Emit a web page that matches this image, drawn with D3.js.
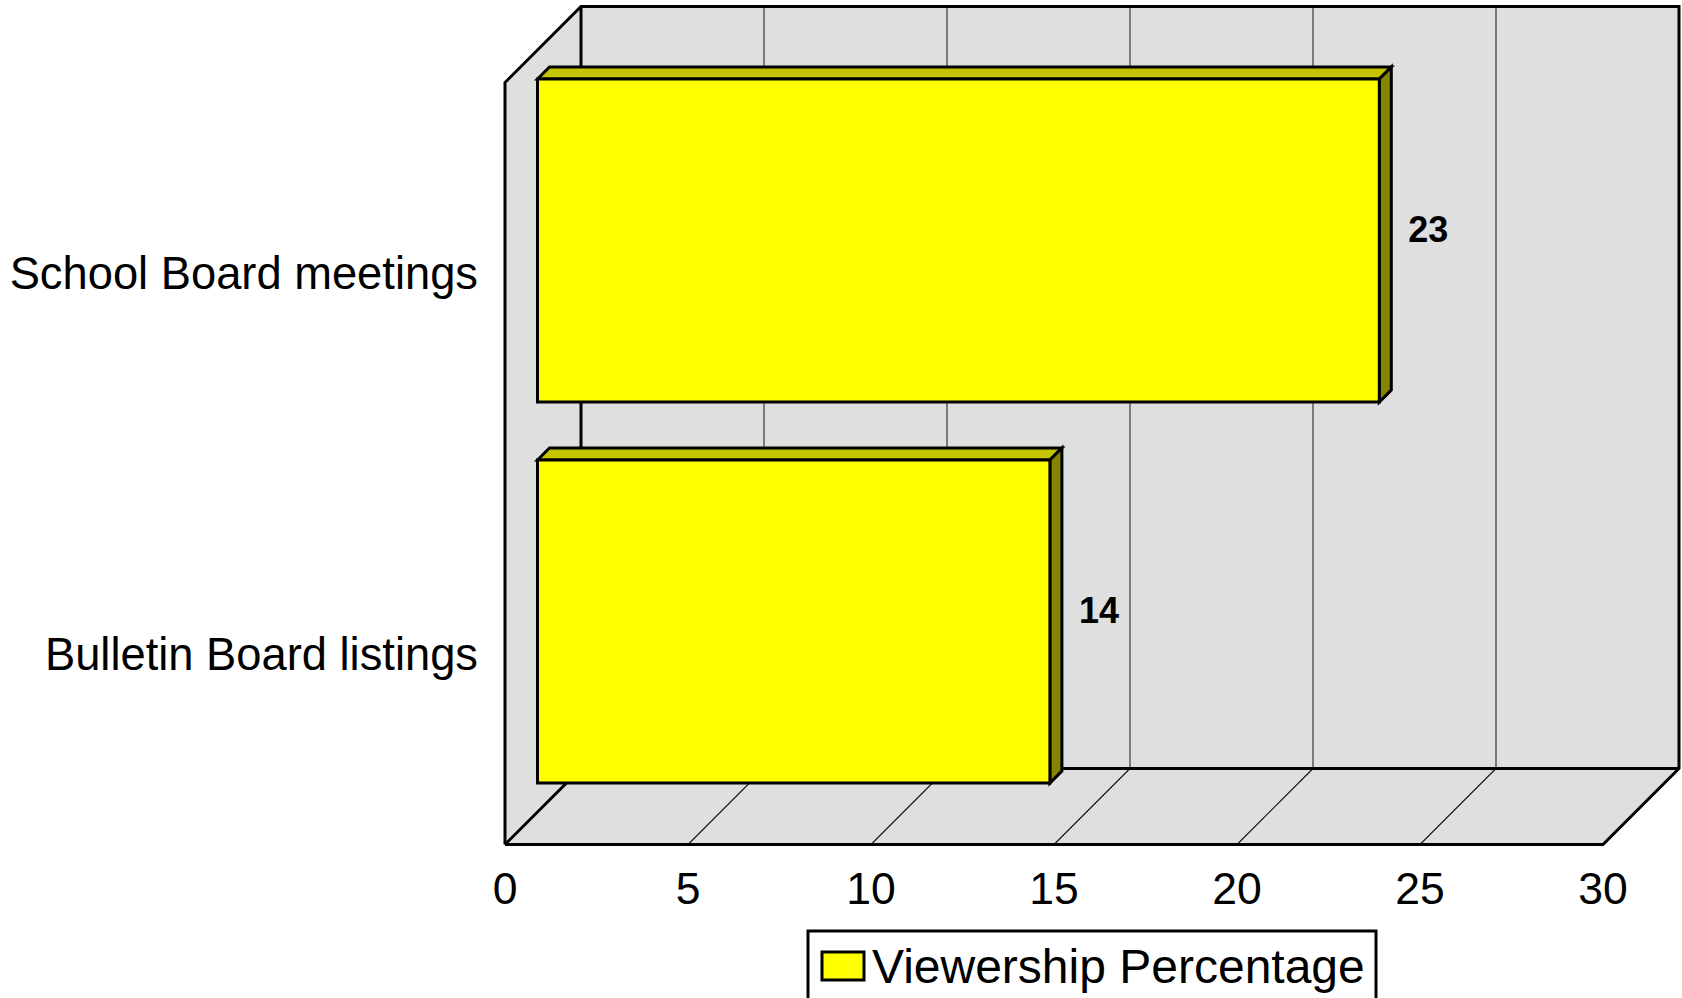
<!DOCTYPE html>
<html>
<head>
<meta charset="utf-8">
<script src="https://cdn.jsdelivr.net/npm/d3@7"></script>
<style>
  html, body { margin: 0; padding: 0; background: #fff; overflow: hidden; }
  svg { display: block; }
  text { font-family: "Liberation Sans", Arial, sans-serif; fill: #000; }
</style>
</head>
<body>
<svg id="chart" width="1682" height="998"></svg>
<script>
const categories = ["School Board meetings", "Bulletin Board listings"];
const viewership = [23, 14];
const xTicks = [0, 5, 10, 15, 20, 25, 30];
const seriesName = "Viewership Percentage";

const svg = d3.select("#chart");

// Front plane of the 3D box and the offset of its back wall
const front = { left: 505, right: 1603, top: 82.5, bottom: 844.5 };
const depth = 76;
const barInset = 32.5;
const barDepth = 12;
const strokeW = 3;

const x = d3.scaleLinear().domain([0, 30]).range([front.left, front.right]);
const y = d3.scaleBand().domain(categories).range([front.top, front.bottom]).paddingInner(0.152).paddingOuter(0.076);

const wall = "#dfdfdf";
const path = pts => "M" + pts.map(p => p.join(",")).join("L") + "Z";

const backLeft = x(0) + depth, backRight = x(30) + depth;
const backTop = front.top - depth, backBottom = front.bottom - depth;

// Walls and floor
const box = svg.append("g");
box.append("path").attr("fill", wall).attr("stroke", "none")
  .attr("d", path([[x(0), front.top], [backLeft, backTop], [backRight, backTop], [backRight, backBottom],
                   [x(30), front.bottom], [x(0), front.bottom]]));

// Gridlines on the back wall and across the floor
const gridTicks = xTicks.slice(1, -1);
box.selectAll("line.back").data(gridTicks).join("line").attr("class", "back")
  .attr("x1", d => x(d) + depth).attr("x2", d => x(d) + depth)
  .attr("y1", backTop).attr("y2", backBottom)
  .attr("stroke", "#444").attr("stroke-width", 1.3);
box.selectAll("line.floor").data(gridTicks).join("line").attr("class", "floor")
  .attr("x1", d => x(d)).attr("x2", d => x(d) + depth)
  .attr("y1", front.bottom).attr("y2", backBottom)
  .attr("stroke", "#111").attr("stroke-width", 1.1);

// Box outline
const edge = (pts, w) => box.append("path").attr("fill", "none").attr("stroke", "#000")
  .attr("stroke-width", w).attr("stroke-linejoin", "miter")
  .attr("d", "M" + pts.map(p => p.join(",")).join("L"));
edge([[x(0), front.bottom], [x(0), front.top], [backLeft, backTop], [backRight, backTop], [backRight, backBottom], [x(30), front.bottom], [x(0), front.bottom]], strokeW);
edge([[backLeft, backTop], [backLeft, backBottom], [backRight, backBottom]], strokeW);
edge([[x(0), front.bottom], [backLeft, backBottom]], strokeW);

// Bars: top face, side face, front face
const bars = svg.append("g").selectAll("g").data(categories).join("g");
const bx0 = x(0) + barInset;
const bx1 = (i) => x(viewership[i]) + barInset;
const by0 = d => y(d) - barInset;
const by1 = d => y(d) + y.bandwidth() - barInset;

bars.append("path").attr("fill", "#c4c400").attr("stroke", "#000").attr("stroke-width", strokeW)
  .attr("d", (d, i) => path([[bx0, by0(d)], [bx0 + barDepth, by0(d) - barDepth], [bx1(i) + barDepth, by0(d) - barDepth], [bx1(i), by0(d)]]));
bars.append("path").attr("fill", "#858500").attr("stroke", "#000").attr("stroke-width", strokeW)
  .attr("d", (d, i) => path([[bx1(i), by0(d)], [bx1(i) + barDepth, by0(d) - barDepth], [bx1(i) + barDepth, by1(d) - barDepth], [bx1(i), by1(d)]]));
bars.append("path").attr("fill", "#ffff00").attr("stroke", "#000").attr("stroke-width", strokeW)
  .attr("d", (d, i) => path([[bx0, by0(d)], [bx1(i), by0(d)], [bx1(i), by1(d)], [bx0, by1(d)]]));

// Value labels beside the bars
bars.append("text")
  .attr("x", (d, i) => bx1(i) + 49)
  .attr("y", d => (by0(d) + by1(d)) / 2 - 11)
  .attr("text-anchor", "middle").attr("dominant-baseline", "central")
  .attr("font-size", 36).attr("font-weight", "bold")
  .text((d, i) => viewership[i]);

// Axes
const xAxis = d3.axisBottom(x).tickValues(xTicks).tickSize(0).tickPadding(28);
const gx = svg.append("g").attr("transform", `translate(-0.5,${front.bottom})`).call(xAxis);
gx.select(".domain").remove();
gx.selectAll("text").attr("font-size", 44.5).style("font-family", '"Liberation Sans", Arial, sans-serif');

const yAxis = d3.axisLeft(y).tickSize(0).tickPadding(27);
const gy = svg.append("g").attr("transform", `translate(${front.left},1.5)`).call(yAxis);
gy.select(".domain").remove();
gy.selectAll("text").attr("font-size", 45.3).style("font-family", '"Liberation Sans", Arial, sans-serif');

// Legend, running off the bottom edge of the page
const legend = svg.append("g");
legend.append("rect").attr("x", 808).attr("y", 931).attr("width", 568).attr("height", 90)
  .attr("fill", "#fff").attr("stroke", "#000").attr("stroke-width", strokeW);
legend.append("rect").attr("x", 822).attr("y", 952).attr("width", 42).attr("height", 28)
  .attr("fill", "#ffff00").attr("stroke", "#000").attr("stroke-width", strokeW);
legend.append("text").attr("x", 872).attr("y", 983).attr("font-size", 48).text(seriesName);
</script>
</body>
</html>
